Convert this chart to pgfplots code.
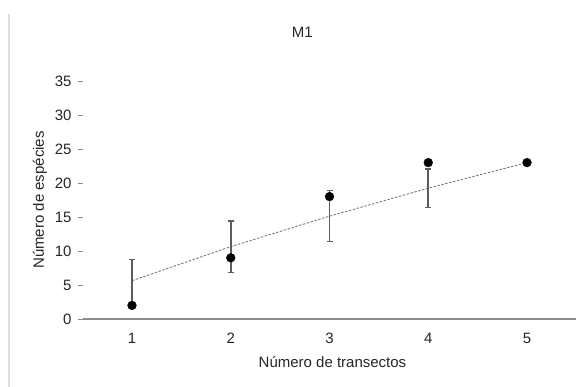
\documentclass[border=0pt]{standalone}
\usepackage{pgfplots}
\pgfplotsset{compat=1.18}
\usepackage{fontspec}
\setmainfont{Liberation Sans}
\definecolor{axisgray}{HTML}{8C8C8C}
\definecolor{bargray}{HTML}{5C5C5C}
\definecolor{linegray}{HTML}{7A7A7A}
\definecolor{txt}{HTML}{262626}
\begin{document}
\begin{tikzpicture}
\useasboundingbox (0,0) rectangle (587bp,387bp);
\draw[color=black!13, line width=1.2bp] (9bp,0) -- (9bp,373bp);
\begin{axis}[
  at={(82.6bp,68bp)}, anchor=south west,
  scale only axis, width=493.8bp, height=238bp,
  xmin=0.5, xmax=5.5, ymin=0, ymax=35,
  axis x line*=bottom, axis y line*=left,
  y axis line style={draw=none},
  x axis line style={axisgray, line width=1.2bp},
  xtick={1,2,3,4,5}, ytick={0,5,...,35},
  minor xtick={0.5,1.5,2.5,3.5,4.5,5.5},
  tick align=outside,
  major tick length=4.6bp, minor tick length=4bp,
  xtick style={draw=none},
  minor x tick style={axisgray, line width=1bp},
  ytick style={axisgray, line width=0.8bp},
  /pgf/number format/assume math mode=true,
  tick label style={font=\fontsize{15bp}{18bp}\selectfont, text=txt},
  xticklabel style={yshift=-6bp},
  yticklabel style={xshift=-3bp},
  label style={font=\fontsize{15bp}{18bp}\selectfont, text=txt},
  title style={font=\fontsize{15bp}{18bp}\selectfont, text=txt, at={(axis description cs:0.445,1.181)}, anchor=center},
  title={M1},
  xlabel={Número de transectos},
  ylabel={Número de espécies},
  xlabel style={at={(axis description cs:0.506,-0.181)}, anchor=center},
  ylabel style={at={(axis description cs:-0.0863,0.5)}, anchor=center},
  clip=false,
]
\addplot[linegray, line width=0.9bp, dash pattern=on 2.5bp off 1.5bp, mark=none,
  error bars/.cd, y dir=both, y explicit,
  error bar style={bargray, line width=1.8bp, solid},
  error mark options={rotate=90, mark size=3bp, bargray, line width=1.2bp, solid}]
  table[x=x, y=y, y error=e] {
x y e
1 5.63 3.15
2 10.64 3.78
3 15.12 3.75
4 19.24 2.82
5 23.00 0
};
\addplot[only marks, mark=*, mark size=4.4bp, black] coordinates {(1,2) (2,9) (3,18) (4,23) (5,23)};
\end{axis}
\end{tikzpicture}
\end{document}
